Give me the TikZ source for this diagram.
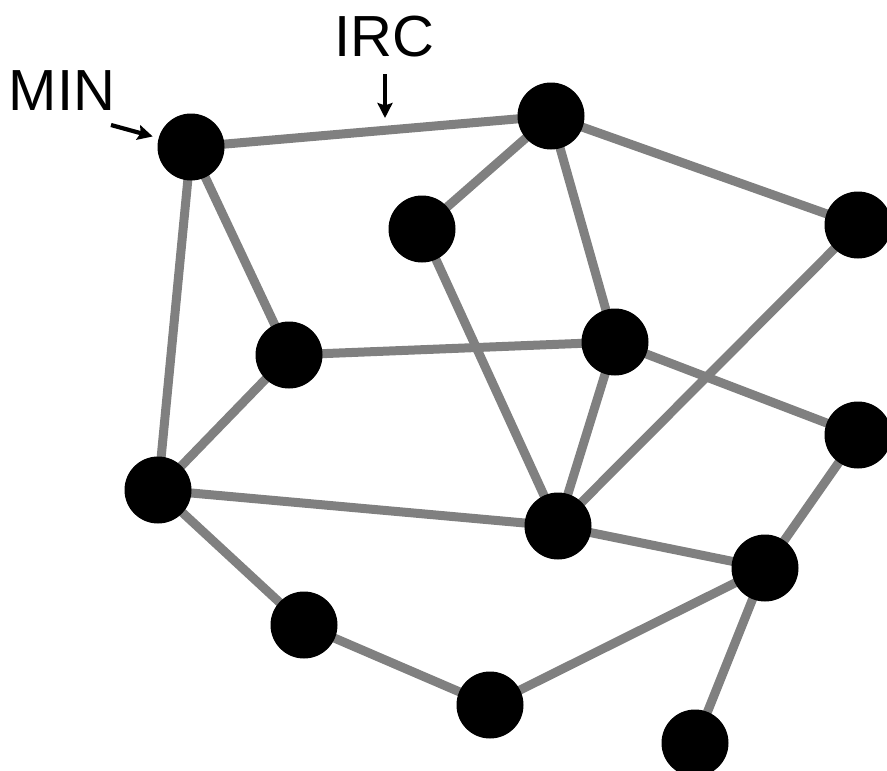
\documentclass[tikz,border=0pt]{standalone}
\usepackage{fontspec}
\setmainfont{Liberation Sans}
\usetikzlibrary{arrows.meta}
\begin{document}
\begin{tikzpicture}[x=1pt,y=-1pt,
  dot/.style={circle,fill=black,draw=none,minimum size=67pt,inner sep=0pt},
  link/.style={draw=black!50,line width=9pt},
  lbl/.style={font=\fontsize{58}{58}\selectfont,inner sep=0pt},
  pointer/.style={draw=black,line width=4.2pt,-{Stealth[length=15pt,width=15pt,inset=2.5pt]}}]
\useasboundingbox (0,0) rectangle (887,771);
% vertices
\coordinate (A) at (191,147);
\coordinate (B) at (551,116);
\coordinate (C) at (422,229);
\coordinate (D) at (858,225);
\coordinate (E) at (289,355);
\coordinate (F) at (615,342);
\coordinate (G) at (158,490);
\coordinate (H) at (558,526);
\coordinate (I) at (858,435);
\coordinate (J) at (765,568);
\coordinate (K) at (304,625);
\coordinate (L) at (490,705);
\coordinate (M) at (695,743);
% links
\foreach \u/\v in {A/B,A/E,A/G,B/C,B/F,B/D,C/H,E/F,E/G,F/H,F/I,D/H,G/H,G/K,K/L,L/J,H/J,J/I,J/M}
  \draw[link] (\u) -- (\v);
% vertex discs
\foreach \n in {A,B,C,D,E,F,G,H,I,J,K,L,M}
  \node[dot] (n\n) at (\n) {};
% labels
\node[lbl] (min) at (62,91) {MIN};
\node[lbl] (irc) at (384,37) {IRC};
\coordinate (minTail) at (111,125);
\coordinate (ircTail) at (385,74);
\coordinate (ircHead) at (385,118);
\draw[pointer,shorten >=6pt] (minTail) -- (nA);
\draw[pointer] (ircTail) -- (ircHead);
\end{tikzpicture}
\end{document}
